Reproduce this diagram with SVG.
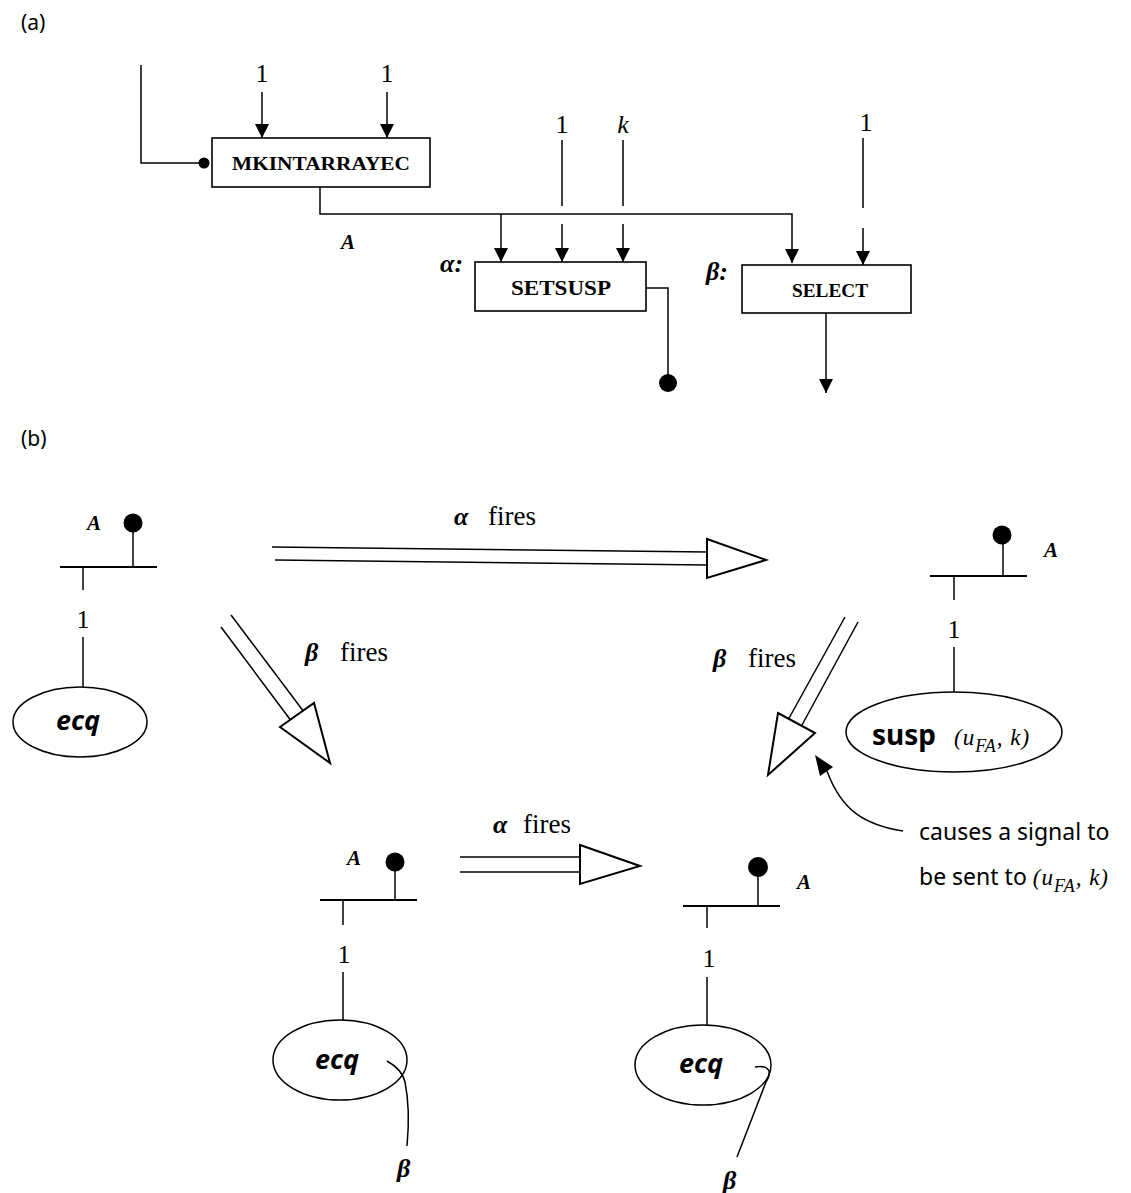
<svg xmlns="http://www.w3.org/2000/svg" width="1131" height="1193" viewBox="0 0 1131 1193">
<defs>
<marker id="ah" markerUnits="userSpaceOnUse" markerWidth="14" markerHeight="14" refX="14" refY="7" orient="auto">
<path d="M0,0 L14,7 L0,14 z" fill="#000"/>
</marker>
<style>
.ln{stroke:#000;stroke-width:1.5;fill:none}
.bar{stroke:#000;stroke-width:2.2;fill:none}
.box{stroke:#000;stroke-width:1.6;fill:#fff}
.hollow{stroke:#000;stroke-width:2;fill:#fff}
.op{font-family:"Liberation Serif",serif;font-weight:bold;text-anchor:middle}
.num{font-family:"Liberation Serif",serif;font-size:26px;text-anchor:middle}
.it{font-family:"Liberation Serif",serif;font-style:italic}
.lab{font-family:"Liberation Serif",serif;font-style:italic;font-weight:bold;font-size:21px}
.gk{font-family:"Liberation Serif",serif;font-style:italic;font-weight:bold;font-size:26px}
.fires{font-family:"Liberation Serif",serif;font-size:27px}
.sans{font-family:"Noto Sans",sans-serif}
.ecq{font-family:"Noto Sans",sans-serif;font-weight:bold;font-style:italic;font-size:27px;text-anchor:middle}
</style>
</defs>
<rect width="1131" height="1193" fill="#fff"/>

<!-- (a) -->
<text class="sans" x="21" y="30" font-size="21">(a)</text>

<g id="mkintarrayec">
<rect class="box" x="212" y="138" width="218" height="49"/>
<text class="op" x="321" y="170" font-size="19" textLength="178" lengthAdjust="spacingAndGlyphs">MKINTARRAYEC</text>
</g>
<g id="setsusp">
<rect class="box" x="475" y="262" width="171" height="49"/>
<text class="op" x="561" y="295" font-size="21" textLength="100" lengthAdjust="spacingAndGlyphs">SETSUSP</text>
<text class="gk" x="440" y="272" font-size="25">α:</text>
</g>
<g id="select">
<rect class="box" x="742" y="265" width="169" height="48"/>
<text class="op" x="830" y="297" font-size="19" textLength="76" lengthAdjust="spacingAndGlyphs">SELECT</text>
<text class="gk" x="706" y="280" font-size="25">β:</text>
</g>

<g id="connectors-a">
<path class="ln" d="M141,65 V163 H204"/>
<circle cx="204" cy="163" r="5.5" fill="#000"/>
<path class="ln" d="M262,92 V138" marker-end="url(#ah)"/>
<path class="ln" d="M387,92 V138" marker-end="url(#ah)"/>
<text class="num" x="262" y="82">1</text>
<text class="num" x="387" y="82">1</text>
<path class="ln" d="M320,187 V214 H792 V263" marker-end="url(#ah)"/>
<path class="ln" d="M501,214 V262" marker-end="url(#ah)"/>
<text class="lab" x="341" y="249">A</text>
<path class="ln" d="M562,140 V206 M562,224 V262" marker-end="url(#ah)"/>
<path class="ln" d="M623,140 V206 M623,224 V262" marker-end="url(#ah)"/>
<text class="num" x="562" y="133">1</text>
<text class="it" x="623" y="133" font-size="26" text-anchor="middle">k</text>
<path class="ln" d="M863,138 V208 M863,228 V265" marker-end="url(#ah)"/>
<text class="num" x="866" y="131">1</text>
<path class="ln" d="M646,288 H668 V380"/>
<circle cx="668" cy="383" r="9" fill="#000"/>
<path class="ln" d="M826,313 V393" marker-end="url(#ah)"/>
</g>

<!-- (b) -->
<text class="sans" x="21" y="446" font-size="21">(b)</text>

<g id="state-tl">
<line class="bar" x1="60" y1="567" x2="157" y2="567"/>
<line class="ln" x1="133" y1="528" x2="133" y2="567"/>
<circle cx="133" cy="523" r="9.5" fill="#000"/>
<text class="lab" x="87" y="530" font-size="20">A</text>
<line class="ln" x1="83" y1="567" x2="83" y2="590"/>
<text class="num" x="83" y="628">1</text>
<line class="ln" x1="83" y1="637" x2="83" y2="687"/>
<ellipse class="ln" cx="80" cy="722" rx="67" ry="35"/>
<text class="ecq" x="78" y="730">ecq</text>
</g>

<g id="state-tr">
<line class="bar" x1="930" y1="576" x2="1027" y2="576"/>
<line class="ln" x1="1003" y1="540" x2="1003" y2="576"/>
<circle cx="1002" cy="535" r="9.5" fill="#000"/>
<text class="lab" x="1044" y="557" font-size="20">A</text>
<line class="ln" x1="954" y1="576" x2="954" y2="600"/>
<text class="num" x="954" y="638">1</text>
<line class="ln" x1="954" y1="647" x2="954" y2="692"/>
<ellipse class="ln" cx="954" cy="732" rx="108" ry="40"/>
<text class="sans" x="872" y="745" font-size="28" font-weight="bold">susp</text>
<text class="it" x="954" y="745" font-size="23" letter-spacing="1">(u<tspan font-size="18" dy="7">FA</tspan><tspan dy="-7">, k)</tspan></text>
</g>

<g id="state-bm">
<line class="bar" x1="320" y1="900" x2="417" y2="900"/>
<line class="ln" x1="395" y1="866" x2="395" y2="900"/>
<circle cx="395" cy="862" r="9.5" fill="#000"/>
<text class="lab" x="347" y="865" font-size="20">A</text>
<line class="ln" x1="343" y1="900" x2="343" y2="925"/>
<text class="num" x="344" y="963">1</text>
<line class="ln" x1="343" y1="972" x2="343" y2="1020"/>
<ellipse class="ln" cx="340" cy="1060" rx="67" ry="40"/>
<text class="ecq" x="337" y="1069">ecq</text>
<path class="ln" d="M387,1061 C396,1066 403,1073 405,1082 C409,1102 409,1125 407,1146"/>
<text class="gk" x="397" y="1177" font-size="24">β</text>
</g>

<g id="state-br">
<line class="bar" x1="683" y1="906" x2="780" y2="906"/>
<line class="ln" x1="758" y1="872" x2="758" y2="906"/>
<circle cx="758" cy="867" r="10" fill="#000"/>
<text class="lab" x="797" y="889" font-size="20">A</text>
<line class="ln" x1="707" y1="906" x2="707" y2="928"/>
<text class="num" x="709" y="967">1</text>
<line class="ln" x1="707" y1="977" x2="707" y2="1025"/>
<ellipse class="ln" cx="703" cy="1065" rx="68" ry="40"/>
<text class="ecq" x="701" y="1073">ecq</text>
<path class="ln" d="M755,1067 Q766,1065 769,1071 Q770,1077 766,1082 L737,1157"/>
<text class="gk" x="723" y="1189" font-size="24">β</text>
</g>

<g id="connectors-b">
<!-- alpha fires top -->
<line class="ln" x1="272" y1="547" x2="708" y2="552"/>
<line class="ln" x1="275" y1="560" x2="708" y2="565"/>
<polygon class="hollow" points="707,539 707,578 766,560"/>
<text x="454" y="525"><tspan class="gk" font-size="24">α</tspan><tspan class="fires" x="488">fires</tspan></text>
<!-- beta fires left -->
<line class="ln" x1="221" y1="627" x2="292" y2="722"/>
<line class="ln" x1="231" y1="615" x2="304" y2="712"/>
<polygon class="hollow" points="280,727 314,703 330,763"/>
<text x="305" y="661"><tspan class="gk" font-size="25">β</tspan><tspan class="fires" x="340">fires</tspan></text>
<!-- beta fires right -->
<line class="ln" x1="845" y1="617" x2="788" y2="720"/>
<line class="ln" x1="858" y1="622" x2="802" y2="725"/>
<polygon class="hollow" points="778,713 815,733 768,775"/>
<text x="713" y="667"><tspan class="gk" font-size="25">β</tspan><tspan class="fires" x="748">fires</tspan></text>
<!-- alpha fires bottom -->
<line class="ln" x1="460" y1="857" x2="581" y2="857"/>
<line class="ln" x1="460" y1="872" x2="581" y2="872"/>
<polygon class="hollow" points="580,845 580,884 640,866"/>
<text x="493" y="833"><tspan class="gk" font-size="24">α</tspan><tspan class="fires" x="523">fires</tspan></text>
<!-- signal arrow -->
<path class="ln" d="M903,831 C866,825 842,812 827,771"/>
<polygon points="815,755 833,767 820,776" fill="#000"/>
</g>

<g id="note">
<text class="sans" x="919" y="840" font-size="23">causes a signal to</text>
<text x="919" y="885"><tspan class="sans" font-size="23">be sent to </tspan><tspan class="it" font-size="23" letter-spacing="1">(u</tspan><tspan class="it" font-size="18" dy="7" letter-spacing="1">FA</tspan><tspan class="it" font-size="23" dy="-7" letter-spacing="1">, k)</tspan></text>
</g>
</svg>
